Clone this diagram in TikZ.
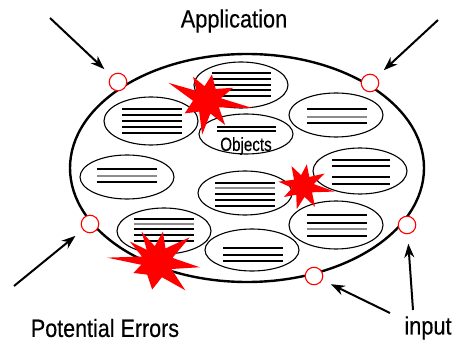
\documentclass[tikz,border=0pt]{standalone}
\usepackage{fontspec}
\setmainfont{Liberation Sans}[FakeBold=0.4]
\usetikzlibrary{arrows.meta}
\tikzset{
  bigell/.style={draw=black,line width=2.4pt,fill=white},
  obj/.style={draw=black,line width=1.1pt,fill=white},
  thk/.style={line width=2pt},
  thn/.style={line width=1.1pt},
  gry/.style={line width=1.3pt,black!45},
  port/.style={circle,draw=red,fill=white,line width=1.1pt,minimum size=17.5pt,inner sep=0pt,outer sep=0pt},
  arr/.style={line width=2pt,-{Stealth[length=14pt,width=10pt]},shorten >=10pt},
  boom/.style={fill=red,draw=none},
  lbl/.style={font=\fontsize{25}{28}\selectfont,inner sep=0pt}
}
\begin{document}
\begin{tikzpicture}[x=1pt,y=-1pt]
\useasboundingbox (0,0) rectangle (454,344);
\fill[white] (0,0) rectangle (454,344);
% big ellipse
\draw[bigell] (247,168) ellipse [x radius=177, y radius=114];
% small object ellipses
\draw[obj] (241,85) ellipse [x radius=47, y radius=23];
\foreach \y/\s in {73/thk,79/thn,85/thn,90/thn,96/thk} \draw[\s] (212,\y) -- (271,\y);
\draw[obj] (151,121) ellipse [x radius=47, y radius=24];
\foreach \y/\s in {109/thk,115/thn,121/thk,127/thk,133/thk} \draw[\s] (122,\y) -- (182,\y);
\draw[obj] (246,134) ellipse [x radius=47, y radius=20];
\foreach \y/\s in {127/thk,131/thn} \draw[\s] (217,\y) -- (276,\y);
\node[inner sep=0pt] (objtxt) at (246,146) {\scalebox{0.8}[1]{\fontsize{19}{21}\selectfont Objects}};
\draw[obj] (336,115) ellipse [x radius=47, y radius=22];
\foreach \y/\s in {109/thk,117/gry,123/thn} \draw[\s] (307,\y) -- (367,\y);
\draw[obj] (127,177) ellipse [x radius=47, y radius=22];
\foreach \y/\s in {169/thk,176/gry,182/thn} \draw[\s] (97,\y) -- (157,\y);
\draw[obj] (245,193) ellipse [x radius=47, y radius=22];
\foreach \y/\s in {183/thk,188/gry,194/thn,200/thk,206/thk} \draw[\s] (215,\y) -- (275,\y);
\draw[obj] (360,171) ellipse [x radius=47, y radius=23];
\foreach \y/\s in {160/thk,166/thn,177/thn,184/thk} \draw[\s] (332,\y) -- (390,\y);
\draw[obj] (336,225) ellipse [x radius=47, y radius=24];
\foreach \y/\s in {215/thk,223/thn,229/gry,236/thn} \draw[\s] (307,\y) -- (367,\y);
\draw[obj] (164,231) ellipse [x radius=47, y radius=23];
\foreach \y/\s in {219/thk,224/gry,229/thn,235/thk,241/thk} \draw[\s] (134,\y) -- (194,\y);
\draw[obj] (252,250) ellipse [x radius=47, y radius=21];
\foreach \y/\s in {248/thk,255/thn,261/thk} \draw[\s] (223,\y) -- (283,\y);
% starbursts
\begin{scope}[shift={(207,100)}]
\fill[boom] (204:42) -- (221:14) -- (239:27) -- (260:14) -- (281:26) -- (308:14) -- (335:29) -- (353:14)
  -- (10:46) -- (32:14) -- (54:31) -- (76:14) -- (98:35) -- (124:14) -- (149:26) -- (177:14) -- cycle;
\end{scope}
\begin{scope}[shift={(303,186)}]
\fill[boom] (150:22) -- (170:11) -- (190:25) -- (215:11) -- (240:23) -- (260:11) -- (280:22) -- (305:11)
  -- (330:25) -- (350:11) -- (10:32) -- (35:11) -- (60:24) -- (82:11) -- (105:24) -- (128:11) -- cycle;
\end{scope}
\begin{scope}[shift={(157,262)}]
\fill[boom] (243:34) -- (262:16) -- (281:31) -- (302:16) -- (323:41) -- (345:16) -- (7:43) -- (26:16)
  -- (45:40) -- (72:16) -- (100:28) -- (128:16) -- (155:26) -- (170:16) -- (185:50) -- (200:16)
  -- (217:34) -- (230:16) -- cycle;
\end{scope}
% ports
\node[port] (p1) at (118,82) {};
\node[port] (p2) at (370,83) {};
\node[port] (p3) at (90,224) {};
\node[port] (p4) at (407,225) {};
\node[port] (p5) at (314,276) {};
% arrow tails
\coordinate (t1) at (50,18);
\coordinate (t2) at (438,20);
\coordinate (t3) at (14,286);
\coordinate (t4) at (413,310);
\coordinate (t5) at (390,313);
\draw[arr] (t1) -- (p1);
\draw[arr] (t2) -- (p2);
\draw[arr] (t3) -- (p3);
\draw[arr] (t4) -- (p4);
\draw[arr] (t5) -- (p5);
% labels
\node[lbl] (app) at (234,21) {\scalebox{0.87}[1]{Application}};
\node[lbl] (err) at (105,328) {\scalebox{0.86}[1]{Potential Errors}};
\node[lbl] (inp) at (428,328) {\scalebox{0.87}[1]{input}};
\end{tikzpicture}
\end{document}
